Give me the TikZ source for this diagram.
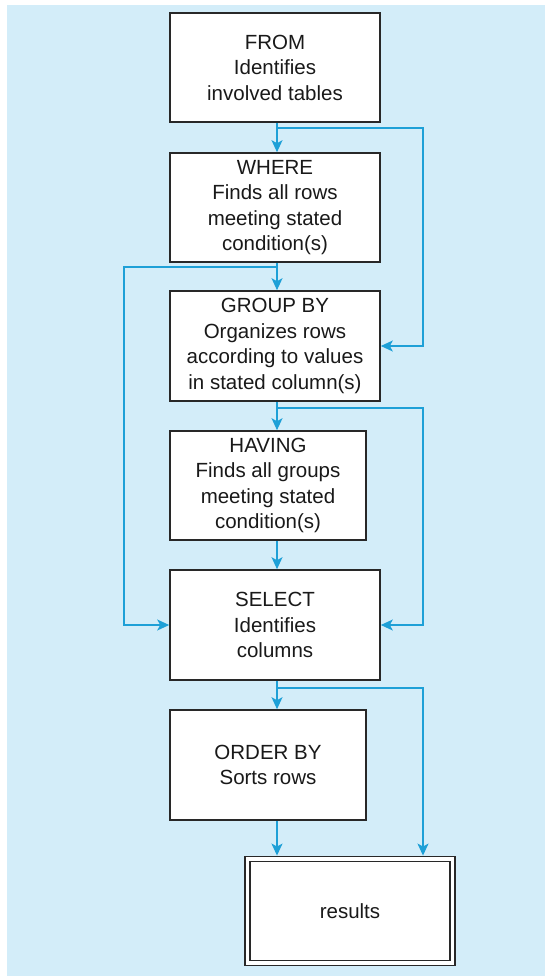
\documentclass[tikz,border=0pt]{standalone}
\usepackage{fontspec}
\setmainfont{Liberation Sans}
\usetikzlibrary{arrows.meta,calc}
\definecolor{bg}{RGB}{211,237,249}
\definecolor{arrc}{RGB}{30,160,215}
\definecolor{boxline}{RGB}{40,40,40}
\definecolor{txt}{RGB}{25,25,25}
\begin{document}
\begin{tikzpicture}[x=1pt,y=-1pt,
  box/.style={draw=boxline, line width=1.6pt, fill=white, align=center,
    font=\fontsize{20.5}{25.5}\selectfont, inner sep=0pt, text=txt},
  arr/.style={draw=arrc, line width=1.4pt, -{Stealth[length=12pt,width=11pt,inset=3pt]}}]
\useasboundingbox (0,0) rectangle (545,976);
\fill[bg] (7,5) rectangle (545,976);
\coordinate (mx) at (277,0);
\coordinate (lx) at (124,0);
\coordinate (rx) at (423,0);
\coordinate (b1) at (277,128);
\coordinate (b2) at (277,267);
\coordinate (b3) at (277,408);
\coordinate (b4) at (277,688);
\node[box, minimum width=210pt, minimum height=109pt] (from) at (275,67.5) {FROM\\Identifies\\involved tables};
\node[box, minimum width=210pt, minimum height=109pt] (where) at (275,207.5) {WHERE\\Finds all rows\\meeting stated\\condition(s)};
\node[box, minimum width=210pt, minimum height=110pt] (group) at (275,346) {GROUP BY\\Organizes rows\\according to values\\in stated column(s)};
\node[box, minimum width=196pt, minimum height=109pt] (having) at (268,485.5) {HAVING\\Finds all groups\\meeting stated\\condition(s)};
\node[box, minimum width=210pt, minimum height=110pt] (select) at (275,625) {SELECT\\Identifies\\columns};
\node[box, minimum width=196pt, minimum height=110pt] (order) at (268,765) {ORDER BY\\Sorts rows};
\node[box, line width=1.4pt, double=white, double distance=3.6pt, minimum width=205pt, minimum height=104.5pt] (results) at (350,911) {results};
\draw[arr] (from.south -| mx) -- (where.north -| mx);
\draw[arr] (b1) -| (rx |- group.east) -- (group.east);
\draw[arr] (where.south -| mx) -- (group.north -| mx);
\draw[arr] (b2) -| (lx |- select.west) -- (select.west);
\draw[arr] (group.south -| mx) -- (having.north -| mx);
\draw[arr] (b3) -| (rx |- select.east) -- (select.east);
\draw[arr] (having.south -| mx) -- (select.north -| mx);
\draw[arr] (select.south -| mx) -- (order.north -| mx);
\draw[arr, shorten >=2.5pt] (b4) -| (rx |- results.north);
\draw[arr, shorten >=2.5pt] (order.south -| mx) -- (results.north -| mx);
\end{tikzpicture}
\end{document}
